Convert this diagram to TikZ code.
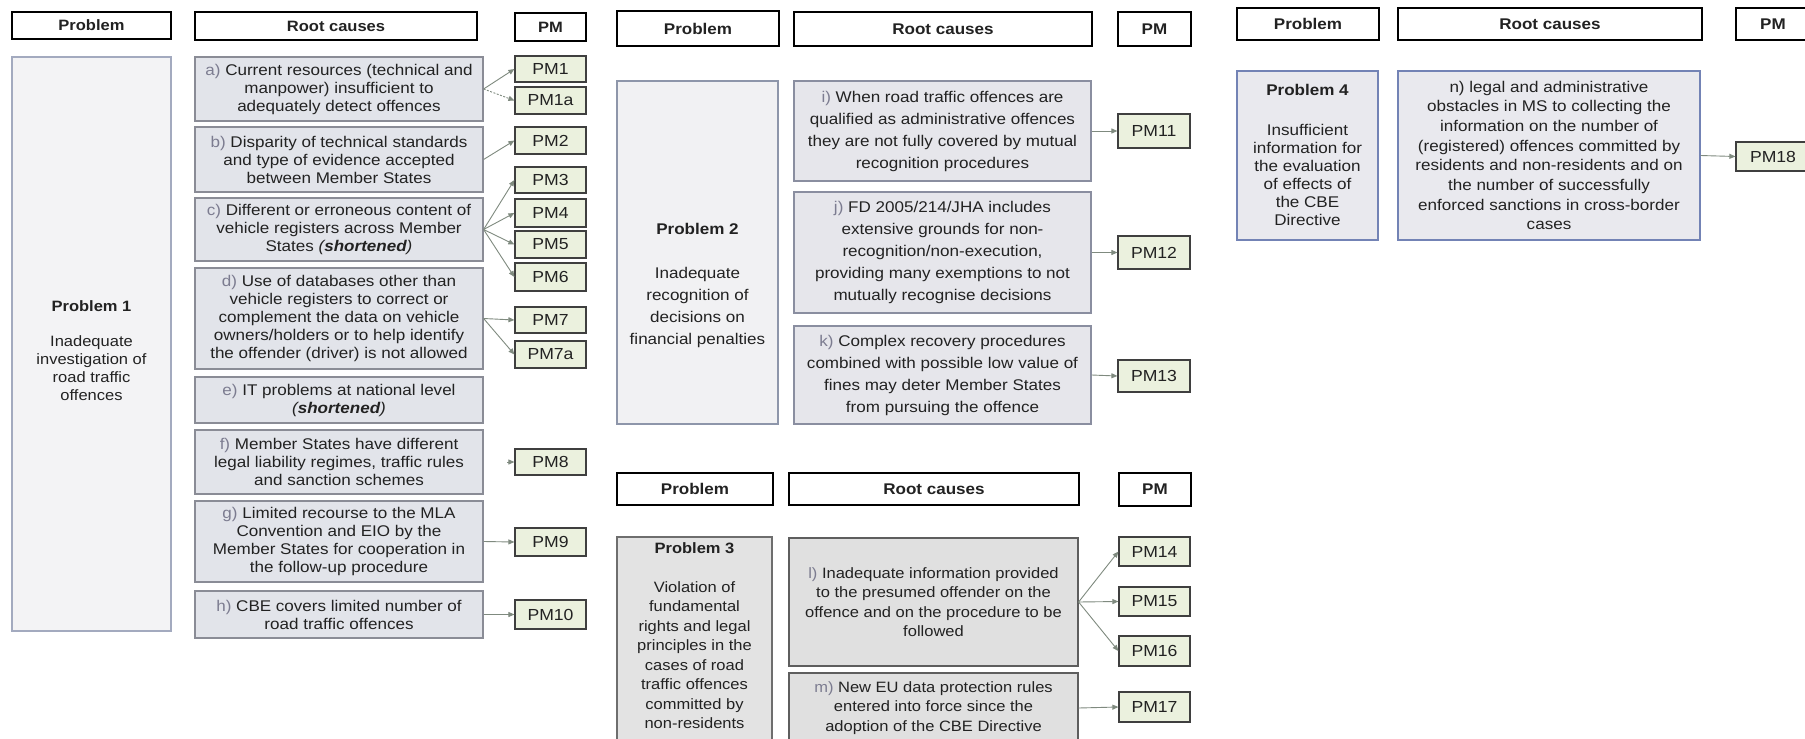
\documentclass[tikz,border=0pt]{standalone}
\usepackage{fontspec}
\setmainfont{Liberation Sans}[FakeStretch=1.1]
\usetikzlibrary{arrows.meta}
\definecolor{txt}{HTML}{222222}
\definecolor{pfx}{HTML}{7C7C90}
\definecolor{p1b}{HTML}{A3AABF}
\definecolor{p1f}{HTML}{F3F3F5}
\definecolor{r1b}{HTML}{8A8C96}
\definecolor{r1f}{HTML}{E2E4EA}
\definecolor{p2b}{HTML}{8E96AA}
\definecolor{p2f}{HTML}{F1F1F3}
\definecolor{r2b}{HTML}{8A8EA0}
\definecolor{r2f}{HTML}{E6E6EB}
\definecolor{p3b}{HTML}{6E6E6E}
\definecolor{p3f}{HTML}{E3E3E3}
\definecolor{r3b}{HTML}{5E5E5E}
\definecolor{r3f}{HTML}{E0E0E0}
\definecolor{p4b}{HTML}{7383B5}
\definecolor{p4f}{HTML}{E9E9EE}
\definecolor{pmf}{HTML}{EBF1DE}
\definecolor{pmb}{HTML}{3F3F3F}
\definecolor{arrc}{HTML}{7F8A7F}
\newcommand\pf[1]{\textcolor{pfx}{#1}}
\newcommand\shrt{\textit{(\textbf{shortened})}}
\newcommand\bxnode[7]{%
  \node[#1, minimum width={(#5-#3)*1pt}, minimum height={(#6-#4)*1pt}] (#2) at ({(#3+#5)/2},{(#4+#6)/2}) {#7};}
\tikzset{
  every node/.style={text=txt, align=center, inner sep=0pt},
  hdr/.style={draw=black, line width=2.6pt, fill=white, font=\bfseries\fontsize{15}{18}\selectfont},
  hdrb/.style={hdr, font=\bfseries\fontsize{15.5}{18}\selectfont},
  prob1/.style={draw=p1b, fill=p1f, line width=1.3pt},
  prob2/.style={draw=p2b, fill=p2f, line width=1.3pt},
  prob3/.style={draw=p3b, fill=p3f, line width=1.3pt},
  prob4/.style={draw=p4b, fill=p4f, line width=1.3pt},
  rc1/.style={draw=r1b, fill=r1f, line width=1.2pt, font=\fontsize{15.5}{18}\selectfont},
  rc2/.style={draw=r2b, fill=r2f, line width=1.2pt, font=\fontsize{15.5}{22}\selectfont},
  rc3/.style={draw=r3b, fill=r3f, line width=1.2pt, font=\fontsize{15}{19.5}\selectfont},
  rc4/.style={draw=p4b, fill=p4f, line width=1.2pt, font=\fontsize{15.5}{19.7}\selectfont},
  ptxt1/.style={font=\fontsize{15}{18}\selectfont},
  ptxt2/.style={font=\fontsize{15.5}{22}\selectfont},
  ptxt3/.style={font=\fontsize{15}{19.5}\selectfont},
  ptxt4/.style={font=\fontsize{15.5}{18}\selectfont},
  pm/.style={draw=pmb, fill=pmf, line width=1.2pt, font=\fontsize{16}{18}\selectfont},
  arr/.style={draw=arrc, line width=0.9pt, -{Triangle[length=6pt,width=5pt]}},
  arrd/.style={arr, dash pattern=on 2pt off 1.5pt}
}
\begin{document}
\begin{tikzpicture}[x=1pt,y=-1pt]
\useasboundingbox (0,0) rectangle (1805,739);
\fill[white] (0,0) rectangle (1805,739);
\clip (0,0) rectangle (1805,739);
% ---------------- Panel 1 ----------------
\bxnode{hdr}{h1p}{12}{12}{171}{39}{Problem}
\bxnode{hdr}{h1r}{195}{12}{477}{40}{Root causes}
\bxnode{hdr}{h1m}{515}{13}{586}{41}{PM}
\bxnode{prob1}{p1}{12}{57}{171}{631}{}
\node[ptxt1] (p1t) at (91.5,351) {\textbf{Problem 1}\\[17pt]Inadequate\\investigation of\\road traffic\\offences};
\bxnode{rc1}{a}{195}{57}{483}{121}{\pf{a)} Current resources (technical and\\manpower) insufficient to\\adequately detect offences}
\bxnode{rc1}{b}{195}{127}{483}{192}{\pf{b)} Disparity of technical standards\\and type of evidence accepted\\between Member States}
\bxnode{rc1}{c}{195}{198}{483}{261}{\pf{c)} Different or erroneous content of\\vehicle registers across Member\\States \shrt}
\bxnode{rc1}{d}{195}{268}{483}{369}{\pf{d)} Use of databases other than\\vehicle registers to correct or\\complement the data on vehicle\\owners/holders or to help identify\\the offender (driver) is not allowed}
\bxnode{rc1}{e}{195}{377}{483}{423}{\pf{e)} IT problems at national level\\\shrt}
\bxnode{rc1}{f}{195}{430}{483}{494}{\pf{f)} Member States have different\\legal liability regimes, traffic rules\\and sanction schemes}
\bxnode{rc1}{g}{195}{501}{483}{582}{\pf{g)} Limited recourse to the MLA\\Convention and EIO by the\\Member States for cooperation in\\the follow-up procedure}
\bxnode{rc1}{h}{195}{591}{483}{638}{\pf{h)} CBE covers limited number of\\road traffic offences}
\bxnode{pm}{pm1}{515}{56}{586}{82}{PM1}
\bxnode{pm}{pm1a}{515}{87}{586}{114}{PM1a}
\bxnode{pm}{pm2}{515}{127}{586}{154}{PM2}
\bxnode{pm}{pm3}{515}{167}{586}{193}{PM3}
\bxnode{pm}{pm4}{515}{199}{586}{227}{PM4}
\bxnode{pm}{pm5}{515}{231}{586}{258}{PM5}
\bxnode{pm}{pm6}{515}{263}{586}{291}{PM6}
\bxnode{pm}{pm7}{515}{307}{586}{333}{PM7}
\bxnode{pm}{pm7a}{515}{341}{586}{368}{PM7a}
\bxnode{pm}{pm8}{515}{449}{586}{475}{PM8}
\bxnode{pm}{pm9}{515}{528}{586}{556}{PM9}
\bxnode{pm}{pm10}{515}{600}{586}{629}{PM10}
\draw[arr] (a.east) -- (pm1.west);
\draw[arrd] (a.east) -- (pm1a.west);
\draw[arr] (b.east) -- (pm2.west);
\draw[arr] (c.east) -- (pm3.west);
\draw[arr] (c.east) -- (pm4.west);
\draw[arr] (c.east) -- (pm5.west);
\draw[arr] (c.east) -- (pm6.west);
\draw[arr] (d.east) -- (pm7.west);
\draw[arr] (d.east) -- (pm7a.west);
\coordinate (f8) at (507,462);
\draw[arr] (f8) -- (pm8.west);
\draw[arr] (g.east) -- (pm9.west);
\draw[arr] (h.east) -- (pm10.west);
% ---------------- Panel 2 ----------------
\bxnode{hdrb}{h2p}{617}{11}{779}{46}{Problem}
\bxnode{hdrb}{h2r}{794}{12}{1092}{46}{Root causes}
\bxnode{hdrb}{h2m}{1118}{12}{1191}{46}{PM}
\bxnode{prob2}{p2}{617}{81}{778}{424}{}
\node[ptxt2] (p2t) at (697.5,285) {\textbf{Problem 2}\\[22pt]Inadequate\\recognition of\\decisions on\\financial penalties};
\bxnode{rc2}{i}{794}{81}{1091}{181}{\pf{i)} When road traffic offences are\\qualified as administrative offences\\they are not fully covered by mutual\\recognition procedures}
\bxnode{rc2}{j}{794}{192}{1091}{313}{\pf{j)} FD 2005/214/JHA includes\\extensive grounds for non-\\recognition/non-execution,\\providing many exemptions to not\\mutually recognise decisions}
\bxnode{rc2}{k}{794}{326}{1091}{424}{\pf{k)} Complex recovery procedures\\combined with possible low value of\\fines may deter Member States\\from pursuing the offence}
\bxnode{pm}{pm11}{1118}{114}{1190}{148}{PM11}
\bxnode{pm}{pm12}{1118}{236}{1190}{269}{PM12}
\bxnode{pm}{pm13}{1118}{360}{1190}{392}{PM13}
\draw[arr] (i.east) -- (pm11.west);
\draw[arr] (j.east) -- (pm12.west);
\draw[arr] (k.east) -- (pm13.west);
% ---------------- Panel 3 ----------------
\bxnode{hdrb}{h3p}{617}{473}{773}{505}{Problem}
\bxnode{hdrb}{h3r}{789}{473}{1079}{505}{Root causes}
\bxnode{hdrb}{h3m}{1119}{473}{1191}{506}{PM}
\bxnode{prob3}{p3}{617}{537}{772}{745}{}
\node[ptxt3, anchor=north] (p3t) at (694.5,542) {\textbf{Problem 3}\\[19.5pt]Violation of\\fundamental\\rights and legal\\principles in the\\cases of road\\traffic offences\\committed by\\non-residents};
\bxnode{rc3}{l}{789}{538}{1078}{666}{\pf{l)} Inadequate information provided\\to the presumed offender on the\\offence and on the procedure to be\\followed}
\bxnode{rc3}{m}{789}{673}{1078}{743}{\pf{m)} New EU data protection rules\\entered into force since the\\adoption of the CBE Directive}
\bxnode{pm}{pm14}{1119}{537}{1190}{566}{PM14}
\bxnode{pm}{pm15}{1119}{587}{1190}{616}{PM15}
\bxnode{pm}{pm16}{1119}{636}{1190}{666}{PM16}
\bxnode{pm}{pm17}{1119}{692}{1190}{722}{PM17}
\draw[arr] (l.east) -- (pm14.west);
\draw[arr] (l.east) -- (pm15.west);
\draw[arr] (l.east) -- (pm16.west);
\draw[arr] (m.east) -- (pm17.west);
% ---------------- Panel 4 ----------------
\bxnode{hdrb}{h4p}{1237}{8}{1379}{40}{Problem}
\bxnode{hdrb}{h4r}{1398}{8}{1702}{40}{Root causes}
\bxnode{hdrb}{h4m}{1736}{8}{1810}{40}{PM}
\bxnode{prob4}{p4}{1237}{71}{1378}{240}{}
\node[ptxt4] (p4t) at (1307.5,155) {\textbf{Problem 4}\\[22pt]Insufficient\\information for\\the evaluation\\of effects of\\the CBE\\Directive};
\bxnode{rc4}{n}{1398}{71}{1700}{240}{n) legal and administrative\\obstacles in MS to collecting the\\information on the number of\\(registered) offences committed by\\residents and non-residents and on\\the number of successfully\\enforced sanctions in cross-border\\cases}
\bxnode{pm}{pm18}{1736}{142}{1810}{171}{PM18}
\draw[arr] (n.east) -- (pm18.west);
\end{tikzpicture}
\end{document}
